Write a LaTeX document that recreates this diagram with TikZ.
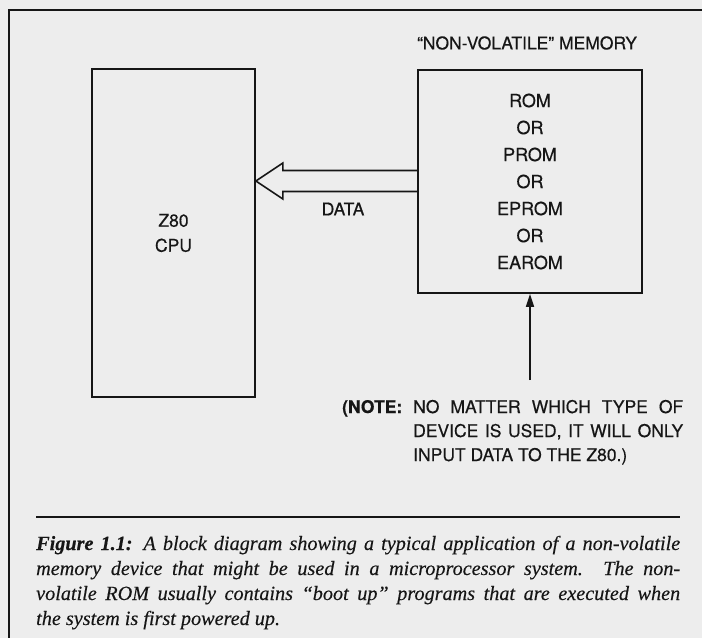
\documentclass[tikz,border=0pt]{standalone}
\usepackage{fontspec}
\setmainfont{Liberation Serif}
\newfontfamily\capfont[FakeBold=0.25]{Liberation Serif}
\newfontfamily\helv[FakeBold=0.45]{TeX Gyre Heros}
\usetikzlibrary{arrows.meta,calc}
\definecolor{paper}{RGB}{237,237,237}
\definecolor{ink}{RGB}{22,22,22}
\begin{document}
\begin{tikzpicture}[x=1pt,y=-1pt,
  frameline/.style={draw=ink,line width=1.8pt},
  blockbox/.style={draw=ink,line width=1.7pt,inner sep=0pt,align=center,text=ink},
  lbl/.style={inner sep=0pt,text=ink,font=\helv\fontsize{17.5}{21}\selectfont},
  conn/.style={draw=ink,line width=1.6pt},
]
\fill[paper] (0,0) rectangle (702,638);
\useasboundingbox (0,0) rectangle (702,638);
% frame (open at right and bottom, as cropped)
\draw[frameline] (702,10) -- (9,10) -- (9,638);

% blocks
\node[blockbox,minimum width=163pt,minimum height=328pt,
      font=\helv\fontsize{17.5}{25}\selectfont] (cpu) at (173.5,233) {Z80\\CPU};
\node[blockbox,minimum width=224pt,minimum height=223pt,
      font=\helv\fontsize{18}{27}\selectfont] (mem) at (530,181.5)
      {ROM\\OR\\PROM\\OR\\EPROM\\OR\\EAROM};
\node[lbl] (title) at (527,43) {“NON-VOLATILE” MEMORY};
\node[lbl] (data) at (343,209) {DATA};

% hollow DATA arrow from memory to CPU
\coordinate (lvl) at (0,181);
\coordinate (tip) at (cpu.east |- lvl);
\draw[conn,line join=miter]
  ($(mem.west |- lvl)+(0,-10.5)$) -- ($(tip)+(27,-10.5)$) -- ($(tip)+(27,-18)$)
  -- (tip) -- ($(tip)+(27,18)$) -- ($(tip)+(27,10.5)$) -- ($(mem.west |- lvl)+(0,10.5)$);

% note arrow
\coordinate (nlvl) at (0,380);
\coordinate (nstart) at (mem.south |- nlvl);
\draw[conn,line width=1.5pt,-{Triangle[length=13pt,width=8pt]}] (nstart) -- (mem.south);

% note text
\node[lbl,font=\helv\bfseries\fontsize{17.5}{21}\selectfont,anchor=base west] (notehead) at (342,413) {(NOTE:};
\node[lbl,anchor=base west] (notebody) at (413,413)
  {\parbox[t]{270pt}{\baselineskip=24pt
   \hbox to 270pt{NO MATTER WHICH TYPE OF}%
   \hbox to 270pt{DEVICE IS USED, IT WILL ONLY}%
   \hbox{INPUT DATA TO THE Z80.)}}};

% caption rule and caption
\coordinate (rl) at (36,517);
\coordinate (rr) at (680,517);
\draw[ink,line width=1.5pt] (rl) -- (rr);
\node[anchor=base west,inner sep=0pt,text=ink,font=\capfont\fontsize{20.2}{25}\selectfont\itshape] (caption) at (36,550)
  {\parbox[t]{644pt}{\baselineskip=25pt
   \hbox to 644pt{\textbf{Figure 1.1:} A block diagram showing a typical application of a non-volatile}%
   \hbox to 644pt{memory device that might be used in a microprocessor system. The non-}%
   \hbox to 644pt{volatile ROM usually contains “boot up” programs that are executed when}%
   \hbox{the system is first powered up.}}};
\end{tikzpicture}
\end{document}
